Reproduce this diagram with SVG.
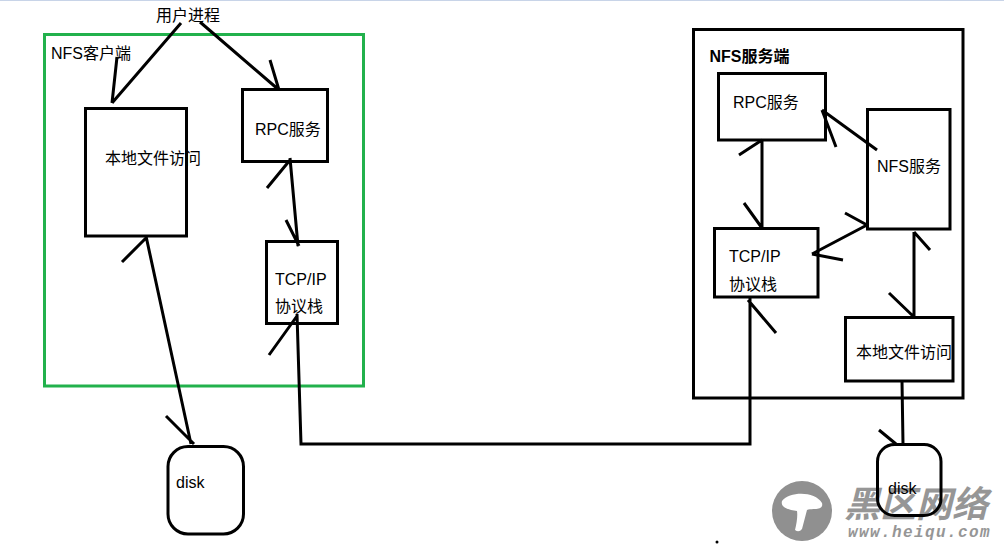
<svg xmlns="http://www.w3.org/2000/svg" width="1004" height="547" viewBox="0 0 1004 547">
<style>
.box{fill:none;stroke:#000;stroke-width:3}
.green{fill:none;stroke:#22b14c;stroke-width:3}
.c{fill:none;stroke:#000;stroke-width:3}
text{font-family:"Liberation Sans","Noto Sans CJK SC",sans-serif;font-size:16px;fill:#000}
</style>
<rect width="1004" height="547" fill="#fff"/>
<rect width="1004" height="1" fill="#c8d4e8"/>
<g id="watermark">
<circle cx="802" cy="511" r="30" fill="#909090"/>
<path d="M782 501C790 491 815 491 822 503C824 511 812 508 807 510L802 529Q799 533 795 530Q798 518 797 511C790 510 780 508 782 501Z" fill="#fff"/>
<text x="844" y="517" style="font-size:36px;font-weight:bold;font-style:italic;fill:#969696">黑区网络</text>
<text x="848" y="537" style="font-size:16px;font-weight:bold;letter-spacing:1.400px;font-style:italic;fill:#969696;font-family:'Liberation Mono',monospace">www.heiqu.com</text>
</g>
<g id="client-box"><rect class="green" x="44.500" y="34.500" width="319" height="351.500"/><text x="51" y="59">NFS客户端</text></g>
<g id="user-process"><text x="156" y="21">用户进程</text></g>
<g id="client-local"><rect class="box" x="85.500" y="108.500" width="101" height="127.500"/><text x="105" y="164">本地文件访问</text></g>
<g id="client-rpc"><rect class="box" x="242.500" y="89.500" width="85" height="72"/><text x="255" y="135">RPC服务</text></g>
<g id="client-tcp"><rect class="box" x="266.500" y="241.500" width="71" height="82"/><text x="275" y="285">TCP/IP</text><text x="275" y="312">协议栈</text></g>
<g id="client-disk"><rect class="box" x="168" y="446.500" width="75.500" height="87.500" rx="20"/><text x="176" y="488">disk</text></g>
<g id="server-box"><rect class="box" x="693.500" y="29.500" width="269.500" height="368.500"/><text x="709.500" y="62" font-weight="bold">NFS服务端</text></g>
<g id="server-rpc"><rect class="box" x="718.500" y="73.500" width="107" height="66.500"/><text x="733" y="108">RPC服务</text></g>
<g id="server-nfs"><rect class="box" x="867.500" y="109.500" width="82.500" height="119.500"/><text x="877" y="172">NFS服务</text></g>
<g id="server-tcp"><rect class="box" x="714.500" y="228.500" width="103.500" height="68.500"/><text x="729" y="262">TCP/IP</text><text x="729" y="290">协议栈</text></g>
<g id="server-local"><rect class="box" x="845.500" y="317.500" width="107.500" height="63.500"/><text x="856" y="358">本地文件访问</text></g>
<g id="server-disk"><rect class="box" x="877.500" y="444.500" width="63.500" height="71" rx="17"/><text x="888" y="494">disk</text></g>
<g id="connectors">
<path class="c" d="M181 23L112 103M117 57L112 103"/>
<path class="c" d="M200 22L279 90M270 60L279 90"/>
<path class="c" d="M290 158L298 246M267 188L290 160M286 220L299 246"/>
<path class="c" d="M146 236L191 444M122 262L146 238M166 416L194 444"/>
<path class="c" d="M297 314L301 444L750 444L750 298M269 355L297 316M776 333L748 300"/>
<path class="c" d="M762 140L762 228M739 155L762 140M744 203L762 228"/>
<path class="c" d="M877 150L822 110M836 147L822 110"/>
<path class="c" d="M867 225L812 254M845 213L867 225M843 260L812 254"/>
<path class="c" d="M914 232L914 317M930 250L914 232M889 293L914 317"/>
<path class="c" d="M902 381L903 444M879 430L896 444"/>
</g>
<circle cx="717" cy="542" r="1.500" fill="#000"/>
</svg>
